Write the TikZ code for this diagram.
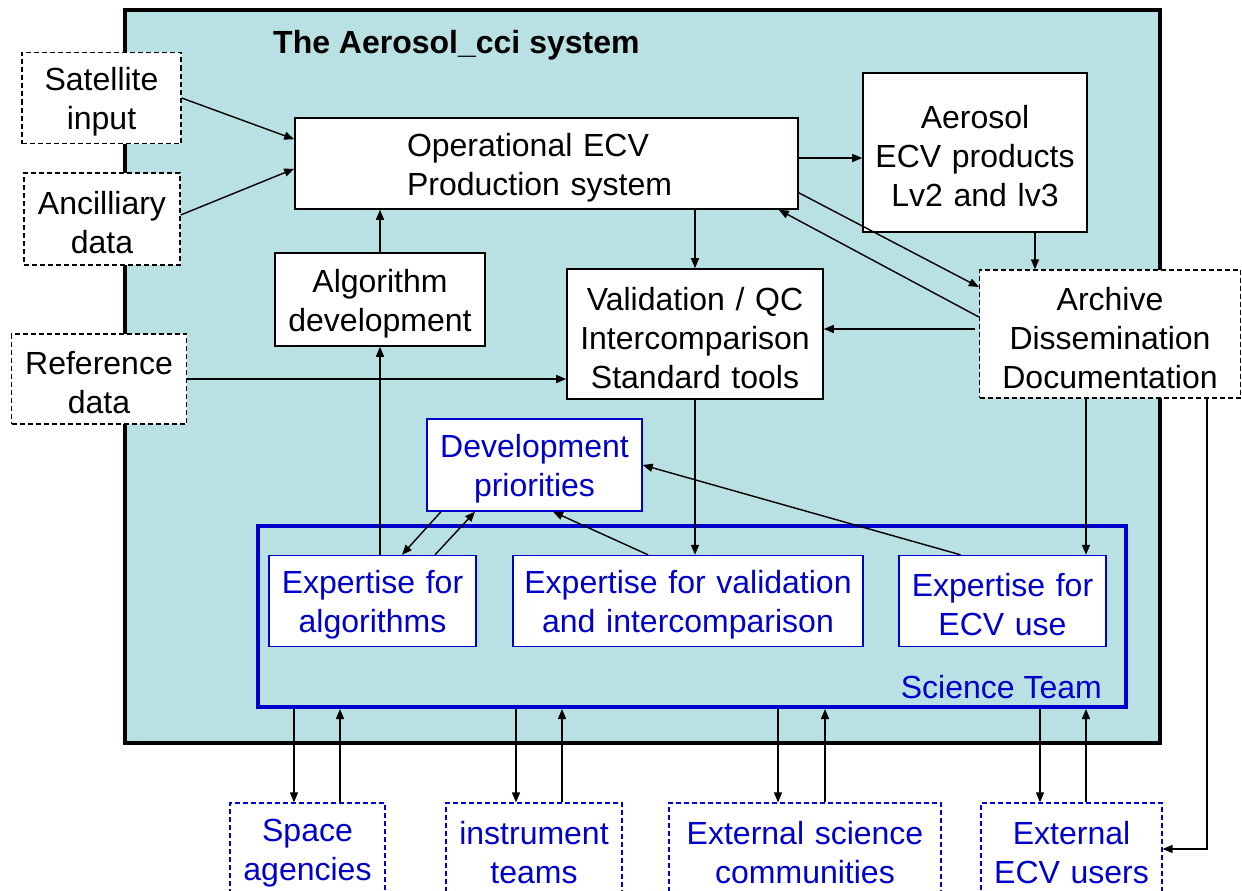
\documentclass[tikz,border=0pt]{standalone}
\usepackage{fontspec}
\setmainfont{Liberation Sans}
\usetikzlibrary{arrows.meta,calc}
\definecolor{sysfill}{RGB}{185,224,227}
\definecolor{stblue}{RGB}{0,0,204}
\begin{document}
\begin{tikzpicture}[x=1pt,y=-1pt,
  txt/.style={font=\fontsize{32}{39}\selectfont, align=center},
  boxtxt/.style={txt, execute at begin node={\rule{0pt}{31pt}}},
  bbox/.style={boxtxt, draw=black, line width=1.6pt, fill=white, inner sep=0pt},
  dbox/.style={bbox, line width=1.3pt, dash pattern=on 5pt off 3pt},
  bluebox/.style={boxtxt, draw=stblue, line width=1.4pt, fill=white, text=stblue, inner sep=0pt},
  dbluebox/.style={bluebox, line width=1.2pt, dash pattern=on 5pt off 3pt},
  arr/.style={line width=1.4pt, -{Triangle[length=10pt,width=8pt]}},
]
\useasboundingbox (0,0) rectangle (1242,891);
\clip (0,0) rectangle (1242,891);
% system frame
\node[draw, line width=4pt, fill=sysfill, minimum width=1035pt, minimum height=733pt, inner sep=0pt] (sys) at (642.5,376.5) {};
\node[font=\fontsize{32}{38}\selectfont\bfseries, anchor=base west, inner sep=0pt] (title) at (273,54) {The Aerosol\_cci system};
% science team frame
\node[draw=stblue, line width=4pt, minimum width=868pt, minimum height=181pt, inner sep=0pt] (st) at (692,616.5) {};
\node[txt, text=stblue, anchor=base east, inner sep=0pt] (stlabel) at (1102,698) {Science Team};
% outside inputs
\node[dbox, text width=159pt, minimum height=91pt] (sat) at (101.5,98) {Satellite\\input};
\node[dbox, text width=156pt, minimum height=92pt] (anc) at (102,219) {Ancilliary\\data};
\node[dbox, text width=175pt, minimum height=90pt] (ref) at (99,379) {Reference\\data};
% system boxes
\node[bbox, align=left, text width=279pt, minimum width=503pt, minimum height=91pt] (op) at (546.5,163.5) {Operational ECV\\Production system};
\node[bbox, text width=224pt, minimum height=159pt] (aer) at (975,152.5) {Aerosol\\ECV products\\Lv2 and lv3};
\node[bbox, text width=210pt, minimum height=93pt] (alg) at (380,299.5) {Algorithm\\development};
\node[bbox, text width=256pt, minimum height=130pt] (val) at (695,334) {Validation / QC\\Intercomparison\\Standard tools};
\node[dbox, text width=261pt, minimum height=128pt] (arch) at (1110,334) {Archive\\Dissemination\\Documentation};
% science team boxes
\node[bluebox, text width=215pt, minimum height=92pt] (dev) at (534.5,465) {Development\\priorities};
\node[bluebox, text width=207pt, minimum height=91pt] (ea) at (372.5,601) {Expertise for\\algorithms};
\node[bluebox, text width=350pt, minimum height=91pt] (ev) at (688,601) {Expertise for validation\\and intercomparison};
\node[bluebox, text width=207pt, minimum height=91pt] (eu) at (1002.5,601) {Expertise for\\ECV use};
% external partners
\node[dbluebox, text width=155pt, minimum height=92pt] (sa) at (307.5,849) {Space\\agencies};
\node[dbluebox, text width=176pt, minimum height=92pt] (it) at (534,849) {instrument\\teams};
\node[dbluebox, text width=272pt, minimum height=92pt] (es) at (805,849) {External science\\communities};
\node[dbluebox, text width=181pt, minimum height=92pt] (xu) at (1071.5,849) {External\\ECV users};
% connectors
\draw[arr] (sat.east) -- ($(op.north west)+(0,22)$);
\draw[arr] ($(anc.east)+(0,-4)$) -- ($(op.south west)+(0,-41)$);
\draw[arr] (alg.north) -- (alg.north |- op.south);
\draw[arr] (alg.south |- ea.north) -- (alg.south);
\coordinate (p1) at ($(op.east)+(0,-5.5)$);
\draw[arr] (p1) -- (p1 -| aer.west);
\draw[arr] (val.north |- op.south) -- (val.north);
\draw[arr] ($(op.south east)+(0,-17)$) -- ($(arch.west)+(0,-47)$);
\draw[arr] ($(arch.west)+(0,-17)$) -- ($(op.south east)+(-20,0)$);
\coordinate (p2) at ($(aer.south)+(60,0)$);
\draw[arr] (p2) -- (p2 |- arch.north);
\coordinate (p3) at ($(arch.west)+(-4,-5)$);
\draw[arr] (p3) -- (p3 -| val.east);
\draw[arr] (ref.east) -- (ref.east -| val.west);
\draw[arr] (val.south) -- (val.south |- ev.north);
\coordinate (p4) at ($(arch.south)+(-24,0)$);
\draw[arr] (p4) -- (p4 |- eu.north);
\draw[arr] ($(arch.south)+(97,0)$) |- (xu.east);
\draw[arr] ($(eu.north)+(-42,0)$) -- (dev.east);
\draw[arr] ($(ev.north)+(-40,0)$) -- ($(dev.south)+(18.5,0)$);
\draw[arr] ($(dev.south)+(-93.5,0)$) -- ($(ea.north)+(29.5,0)$);
\draw[arr] ($(ea.north)+(62.5,0)$) -- ($(dev.south)+(-59.5,0)$);
\foreach \b/\dx/\ux in {sa/-13.5/32.5, it/-18/28, es/-27/20, xu/-31.5/14.5} {
  \coordinate (d) at ($(\b.north)+(\dx,0)$);
  \coordinate (u) at ($(\b.north)+(\ux,0)$);
  \draw[arr] (d |- st.south) -- (d);
  \draw[arr] (u) -- (u |- st.south);
}
\end{tikzpicture}
\end{document}
